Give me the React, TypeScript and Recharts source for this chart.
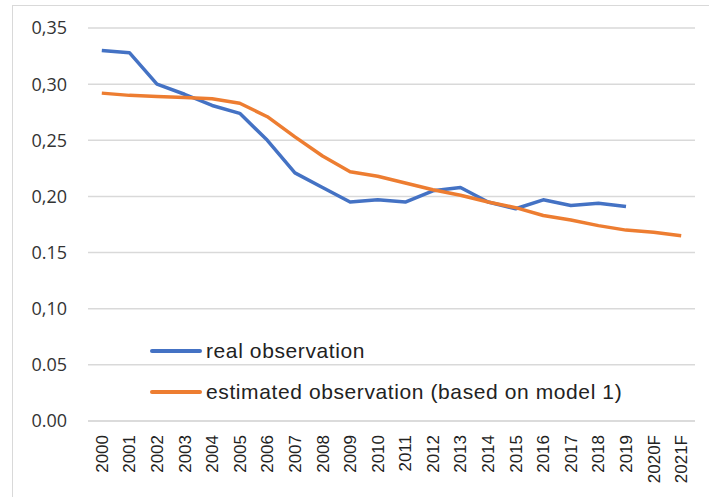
import { LineChart, Line, XAxis, YAxis, CartesianGrid } from "recharts"

const years = [
  "2000", "2001", "2002", "2003", "2004", "2005", "2006", "2007", "2008", "2009", "2010",
  "2011", "2012", "2013", "2014", "2015", "2016", "2017", "2018", "2019", "2020F", "2021F",
]

const realObs = [
  0.330, 0.328, 0.300, 0.291, 0.281, 0.274, 0.250, 0.221, 0.208, 0.195, 0.197,
  0.195, 0.205, 0.208, 0.195, 0.189, 0.197, 0.192, 0.194, 0.191, null, null,
]

const estimatedObs = [
  0.292, 0.290, 0.289, 0.288, 0.287, 0.283, 0.271, 0.253, 0.236, 0.222, 0.218,
  0.212, 0.206, 0.201, 0.195, 0.190, 0.183, 0.179, 0.174, 0.170, 0.168, 0.165,
]

const yTicks = [0, 0.05, 0.1, 0.15, 0.2, 0.25, 0.3, 0.35]
const yTickLabels = ["0.00", "0.05", "0,10", "0.15", "0,20", "0,25", "0,30", "0,35"]

const seriesNames = ["real observation", "estimated observation (based on model 1)"]
const BLUE = "#4472C4"
const ORANGE = "#ED7D31"

const data = years.map((year, i) => ({
  year,
  real: realObs[i],
  estimated: estimatedObs[i],
}))

const YearTick = ({ x, y, payload }: { x?: number; y?: number; payload?: { value: string } }) => (
  <text
    x={0}
    y={0}
    transform={`translate(${(x ?? 0) + 6}, ${(y ?? 0) + 6}) rotate(-90)`}
    textAnchor="end"
    fontSize={17}
    fontFamily="'Liberation Sans', Arial, sans-serif"
    fill="#222"
  >
    {payload?.value}
  </text>
)

// legend sits inside the plot area, so it is drawn over the chart instead of taking space
const ChartLegend = () => (
  <div
    style={{
      position: "absolute",
      left: 150,
      top: 330,
      fontFamily: "'Liberation Sans', Arial, sans-serif",
      fontSize: 21,
      letterSpacing: 0.6,
      color: "#222",
    }}
  >
    {[BLUE, ORANGE].map((color, i) => (
      <div key={i} style={{ display: "flex", alignItems: "center", height: 41 }}>
        <span style={{ display: "inline-block", width: 52, height: 4, background: color, borderRadius: 2, marginRight: 4 }} />
        <span>{seriesNames[i]}</span>
      </div>
    ))}
  </div>
)

export default function App() {
  return (
    <div style={{ position: "absolute", left: 0, top: 0, width: 709, height: 497, overflow: "hidden", background: "#fff" }}>
      <div
        style={{
          position: "absolute",
          left: 12,
          top: 5,
          width: 720,
          height: 520,
          border: "1.5px solid #d9d9d9",
        }}
      />
      <LineChart
        width={709}
        height={497}
        data={data}
        margin={{ top: 28, right: 14, bottom: 0, left: 28 }}
        style={{ position: "absolute", left: 0, top: 0 }}
      >
        <CartesianGrid vertical={false} stroke="#d9d9d9" strokeWidth={1.5} />
        <XAxis
          dataKey="year"
          interval={0}
          height={76}
          padding={{ left: 13.8, right: 13.8 }}
          axisLine={{ stroke: "#d9d9d9", strokeWidth: 1.5 }}
          tickLine={false}
          tick={<YearTick />}
        />
        <YAxis
          width={60}
          domain={[0, 0.35]}
          ticks={yTicks}
          axisLine={false}
          tickLine={false}
          tickMargin={15}
          tickFormatter={(v: number) => yTickLabels[yTicks.indexOf(v)] ?? String(v)}
          tick={{ fill: "#333", fontSize: 18, fontFamily: "'Open Sans', 'Noto Sans', sans-serif" }}
        />
        <Line
          type="linear"
          dataKey="real"
          name={seriesNames[0]}
          stroke={BLUE}
          strokeWidth={3.5}
          strokeLinejoin="round"
          dot={false}
          isAnimationActive={false}
        />
        <Line
          type="linear"
          dataKey="estimated"
          name={seriesNames[1]}
          stroke={ORANGE}
          strokeWidth={3.5}
          strokeLinejoin="round"
          dot={false}
          isAnimationActive={false}
        />
      </LineChart>
      <ChartLegend />
    </div>
  )
}
